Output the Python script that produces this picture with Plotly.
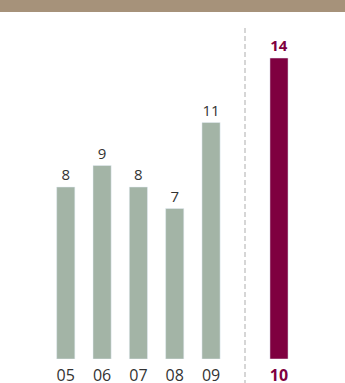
import plotly.graph_objects as go

# anni precedenti e anno corrente
anni = ["05", "06", "07", "08", "09"]
valori = [8, 9, 8, 7, 11]
anno_corrente = ["10"]
valore_corrente = [14]

verde = "#a3b4a6"
bordeaux = "#7f0040"
grigio_testo = "#333333"

W, H = 345, 383
top, bottom = 20, 24
plot_h = H - top - bottom
px_unita = 21.5
y_max = plot_h / px_unita


def px_x(px):
    return px / W


def px_y(px):
    # da pixel (dall'alto) a coordinate paper
    return (H - bottom - px) / plot_h


fig = go.Figure()

fig.add_trace(go.Bar(
    x=anni, y=valori, xaxis="x", yaxis="y",
    marker=dict(color=verde), width=0.5,
    text=[str(v) for v in valori], textposition="outside",
    textfont=dict(size=15, color=grigio_testo),
    cliponaxis=False, showlegend=False, hoverinfo="skip"
))

fig.add_trace(go.Bar(
    x=anno_corrente, y=valore_corrente, xaxis="x2", yaxis="y",
    marker=dict(color=bordeaux), width=0.5,
    text=[f"<b>{v}</b>" for v in valore_corrente], textposition="outside",
    textfont=dict(size=15, color=bordeaux),
    cliponaxis=False, showlegend=False, hoverinfo="skip"
))

# fascia in alto
fig.add_shape(type="rect", xref="paper", yref="paper",
              x0=0, x1=1, y0=px_y(12), y1=px_y(0),
              fillcolor="#a6927a", line=dict(width=0), layer="above")

# separatore tratteggiato
fig.add_shape(type="line", xref="paper", yref="paper",
              x0=px_x(245), x1=px_x(245), y0=px_y(28), y1=px_y(H),
              line=dict(color="#d6d6d6", width=2, dash="5px,3px"))

fig.update_layout(
    width=W, height=H,
    margin=dict(l=0, r=0, t=top, b=bottom),
    plot_bgcolor="white", paper_bgcolor="white",
    font=dict(family="Open Sans", color=grigio_testo),
    xaxis=dict(domain=[px_x(47.6), px_x(229.2)], anchor="y",
               showgrid=False, zeroline=False, showline=False,
               automargin=False, ticklabelstandoff=5,
               tickfont=dict(size=16, color=grigio_testo)),
    xaxis2=dict(domain=[px_x(260.9), px_x(297.1)], anchor="y",
                showgrid=False, zeroline=False, showline=False,
                automargin=False, ticklabelstandoff=5,
                tickvals=anno_corrente,
                ticktext=[f"<b>{a}</b>" for a in anno_corrente],
                tickfont=dict(size=16, color=bordeaux)),
    yaxis=dict(range=[0, y_max], visible=False),
    bargap=0.5,
)

# niente margine né scroll della pagina, il grafico parte da (0, 0)
fig.write_html("out.html", config={"displayModeBar": False},
               post_script="document.body.style.margin='0';"
                           "document.body.style.overflow='hidden';"
                           "window.scrollTo(0, 0);")
